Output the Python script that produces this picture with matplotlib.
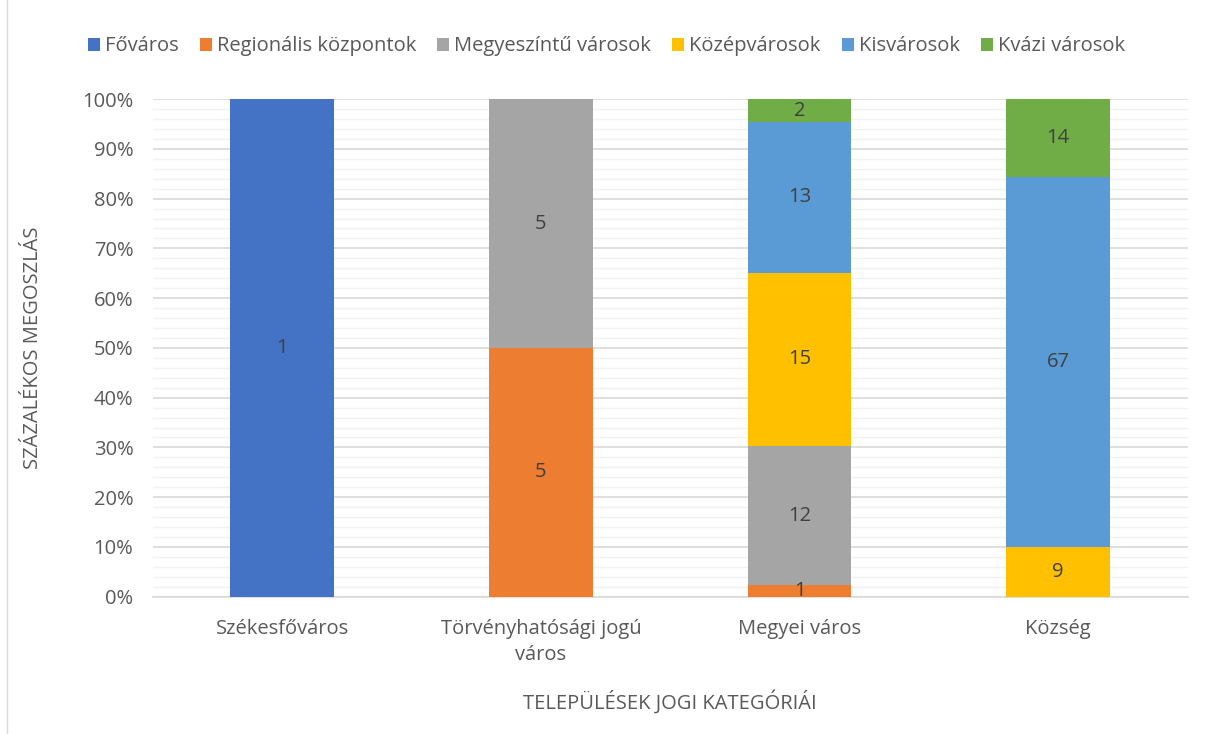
import matplotlib.pyplot as plt
import numpy as np
from matplotlib.lines import Line2D

plt.rcParams['font.family'] = ['Open Sans', 'DejaVu Sans']

categories = ['Székesfőváros', 'Törvényhatósági jogú\nváros', 'Megyei város', 'Község']
series = ['Főváros', 'Regionális központok', 'Megyeszíntű városok', 'Középvárosok', 'Kisvárosok', 'Kvázi városok']
colors = ['#4472C4', '#ED7D31', '#A5A5A5', '#FFC000', '#5B9BD5', '#70AD47']

fovaros = [1, 0, 0, 0]
regionalis = [0, 5, 1, 0]
megyeszintu = [0, 5, 12, 0]
kozepvarosok = [0, 0, 15, 9]
kisvarosok = [0, 0, 13, 67]
kvazi = [0, 0, 2, 14]

counts = np.array([fovaros, regionalis, megyeszintu, kozepvarosok, kisvarosok, kvazi], dtype=float)
totals = counts.sum(axis=0)
shares = counts / totals * 100

fs = 14.5
fig = plt.figure(figsize=(12.13, 7.34), dpi=100)
ax = fig.add_axes([0.126, 0.187, 0.853, 0.678])
fig.lines.append(Line2D([0.006, 0.006], [0.0, 1.0], transform=fig.transFigure,
                        color='#D9D9D9', linewidth=1))

x = np.arange(len(categories))
bottom = np.zeros(len(categories))
handles = []
for i, name in enumerate(series):
    b = ax.bar(x, shares[i], 0.4, bottom=bottom, color=colors[i], label=name, zorder=3)
    handles.append(b)
    for j in range(len(categories)):
        if counts[i, j] > 0:
            ax.text(x[j], bottom[j] + shares[i, j] / 2, '%d' % counts[i, j],
                    ha='center', va='center', fontsize=fs, color='#404040', zorder=4)
    bottom += shares[i]

ax.set_xlim(-0.5, 3.5)
ax.set_ylim(0, 100)
ax.set_yticks(np.arange(0, 101, 10))
ax.set_yticklabels(['%d%%' % v for v in range(0, 101, 10)])
ax.set_yticks(np.arange(0, 101, 2), minor=True)
ax.grid(axis='y', which='major', color='#D9D9D9', linewidth=1.2, zorder=0)
ax.grid(axis='y', which='minor', color='#F2F2F2', linewidth=1, zorder=0)
ax.set_xticks(x)
ax.set_xticklabels(categories, linespacing=1.4)
for s in ['top', 'right', 'left']:
    ax.spines[s].set_visible(False)
ax.spines['bottom'].set_color('#D9D9D9')
ax.spines['bottom'].set_linewidth(1.2)
ax.tick_params(axis='both', which='both', length=0, labelsize=fs, colors='#595959')
ax.tick_params(axis='x', pad=16)
ax.tick_params(axis='y', pad=14)

ax.set_xlabel('TELEPÜLÉSEK JOGI KATEGÓRIÁI', fontsize=fs, color='#595959', labelpad=18)
ax.set_ylabel('SZÁZALÉKOS MEGOSZLÁS', fontsize=fs, color='#595959', labelpad=28)

fig.legend(handles=handles, labels=series, loc='center', bbox_to_anchor=(0.5, 0.937),
           ncol=6, frameon=False, fontsize=fs, handlelength=0.6, handleheight=0.6,
           handletextpad=0.25, columnspacing=1.05, labelcolor='#595959')

fig.savefig('out.png', dpi=100)
